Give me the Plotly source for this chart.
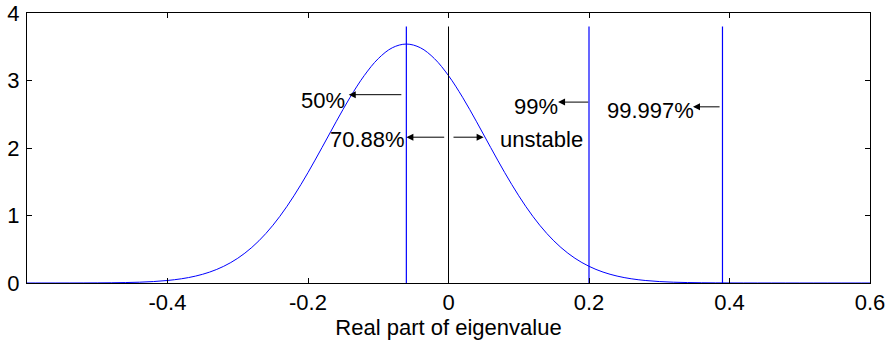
import plotly.graph_objects as go

# Density curve
x_vals = [-0.60, -0.58, -0.56, -0.54, -0.52, -0.50, -0.48, -0.46, -0.44, -0.42,
          -0.40, -0.38, -0.36, -0.34, -0.32, -0.30, -0.28, -0.26, -0.24, -0.22,
          -0.20, -0.18, -0.16, -0.14, -0.12, -0.10, -0.08, -0.06, -0.04, -0.02,
          0.00, 0.02, 0.04, 0.06, 0.08, 0.10, 0.12, 0.14, 0.16, 0.18,
          0.20, 0.22, 0.24, 0.26, 0.28, 0.30, 0.32, 0.34, 0.36, 0.38,
          0.40, 0.42, 0.44, 0.46, 0.48, 0.50, 0.52, 0.54, 0.56, 0.58, 0.60]
density = [0.0000, 0.0001, 0.0002, 0.0004, 0.0009, 0.0017, 0.0034, 0.0065, 0.0120, 0.0215,
           0.0374, 0.0628, 0.1024, 0.1616, 0.2473, 0.3666, 0.5267, 0.733, 0.9885, 1.292,
           1.636, 2.008, 2.388, 2.752, 3.072, 3.324, 3.485, 3.54, 3.485, 3.324,
           3.072, 2.752, 2.388, 2.008, 1.636, 1.292, 0.9885, 0.733, 0.5267, 0.3666,
           0.2473, 0.1616, 0.1024, 0.0628, 0.0374, 0.0215, 0.0120, 0.0065, 0.0034, 0.0017,
           0.0009, 0.0004, 0.0002, 0.0001, 0.0, 0.0, 0.0, 0.0, 0.0, 0.0, 0.0]

# Percentile markers (blue) and stability boundary (black)
marker_x = [-0.06, 0.20, 0.39]
marker_top = 3.8
boundary_x = 0.0

x_ticks = [-0.4, -0.2, 0, 0.2, 0.4, 0.6]
x_tick_text = ["-0.4", "-0.2", "0", "0.2", "0.4", "0.6"]
y_ticks = [0, 1, 2, 3, 4]

# Annotation labels: (text, text_x, text_y)
labels = [("50%", -0.179, 2.71), ("70.88%", -0.116, 2.12), ("unstable", 0.132, 2.13),
          ("99%", 0.125, 2.62), ("99.997%", 0.288, 2.56)]
# Arrows: (head_x, head_y, tail_x, tail_y)
arrows = [(-0.142, 2.79, -0.065, 2.79),
          (-0.060, 2.16, -0.004, 2.16),
          (0.050, 2.16, 0.005, 2.16),
          (0.156, 2.68, 0.201, 2.68),
          (0.348, 2.61, 0.388, 2.61)]

fig = go.Figure()
fig.add_trace(go.Scatter(x=x_vals, y=density, mode="lines", line=dict(color="#0000FF", width=1, shape="spline"),
                         showlegend=False, hoverinfo="skip"))
for mx in marker_x:
    fig.add_trace(go.Scatter(x=[mx, mx], y=[0, marker_top], mode="lines",
                             line=dict(color="#0000FF", width=1.2), showlegend=False, hoverinfo="skip"))
fig.add_trace(go.Scatter(x=[boundary_x, boundary_x], y=[0, marker_top], mode="lines",
                         line=dict(color="black", width=1), showlegend=False, hoverinfo="skip"))

font = dict(family="Liberation Sans, Arial, sans-serif", size=22, color="black")
annotations = []
for t, tx, ty in labels:
    annotations.append(dict(x=tx, y=ty, xref="x", yref="y", text=t, showarrow=False, font=font))
for hx, hy, tx, ty in arrows:
    annotations.append(dict(x=hx, y=hy, ax=tx, ay=ty, xref="x", yref="y", axref="x", ayref="y",
                            text="", showarrow=True, arrowhead=2, arrowsize=1.4, arrowwidth=1,
                            arrowcolor="black", standoff=0, startstandoff=0))

axis_common = dict(showline=True, linecolor="black", linewidth=1, mirror="ticks", ticks="inside",
                   ticklen=5, tickcolor="black", showgrid=False, zeroline=False,
                   tickfont=font, automargin=False)
fig.update_layout(
    width=886, height=340,
    margin=dict(l=27, r=16, t=13, b=57),
    plot_bgcolor="white", paper_bgcolor="white",
    xaxis=dict(range=[-0.6, 0.6], tickvals=x_ticks, ticktext=x_tick_text,
               title=dict(text="Real part of eigenvalue", font=font, standoff=0), **axis_common),
    yaxis=dict(range=[0, 4], tickvals=y_ticks, ticklabelstandoff=2, **axis_common),
    annotations=annotations,
    font=font,
)
fig.write_html("out.html")
